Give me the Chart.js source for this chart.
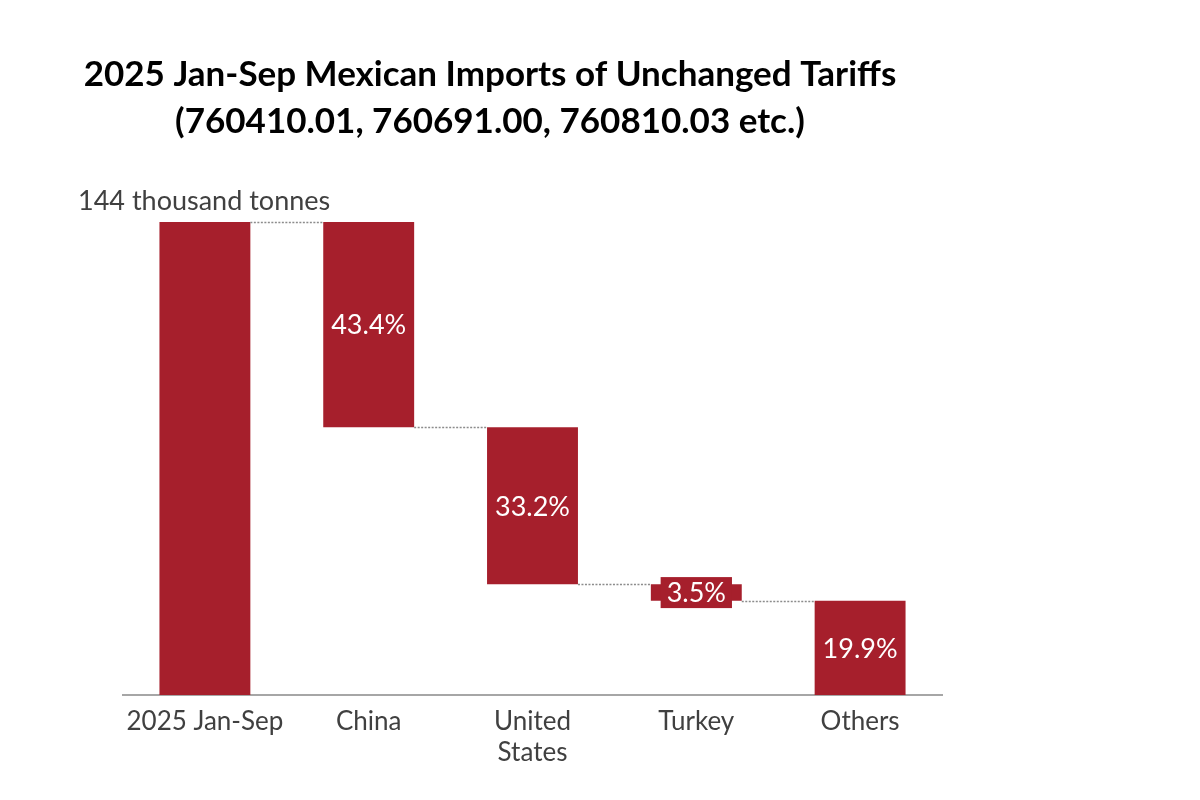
<!DOCTYPE html>
<html>
<head>
<meta charset="utf-8">
<script src="https://cdn.jsdelivr.net/npm/chart.js@4.4.1/dist/chart.umd.min.js"></script>
<style>
  html, body { margin: 0; padding: 0; background: #ffffff; }
  #wrap { width: 1200px; height: 800px; position: relative; }
</style>
</head>
<body>
<div id="wrap"><canvas id="c" width="1200" height="800"></canvas></div>
<script>
const titleLines = ['2025 Jan-Sep Mexican Imports of Unchanged Tariffs', '(760410.01, 760691.00, 760810.03 etc.)'];
const unitLabel = '144 thousand tonnes';
const categories = ['2025 Jan-Sep', 'China', ['United', 'States'], 'Turkey', 'Others'];
const totalValue = 144;
const shares = [43.4, 33.2, 3.5, 19.9];
const shareLabels = ['43.4%', '33.2%', '3.5%', '19.9%'];

// build floating ranges for the waterfall from the data
const ranges = [[0, totalValue]];
let level = totalValue;
shares.forEach((s, i) => {
  const amt = totalValue * s / 100;
  const lo = (i === shares.length - 1) ? 0 : level - amt;
  ranges.push([lo, level]);
  level = lo;
});
const barLabels = [''].concat(shareLabels);

const RED = '#A61F2C';
const FONT = 'Lato, "Open Sans", sans-serif';

const overlay = {
  id: 'overlay',
  afterDatasetsDraw(chart) {
    const ctx = chart.ctx;
    const meta = chart.getDatasetMeta(0);
    const ys = chart.scales.y;
    // connectors
    ctx.save();
    ctx.strokeStyle = '#8c8c8c';
    ctx.lineWidth = 1.5;
    ctx.setLineDash([2, 1.5]);
    for (let i = 0; i < meta.data.length - 1; i++) {
      const a = meta.data[i], b = meta.data[i + 1];
      const v = i === 0 ? ranges[0][1] : ranges[i][0];
      const y = Math.round(ys.getPixelForValue(v)) + 0.5;
      ctx.beginPath();
      ctx.moveTo(a.x + a.width / 2, y);
      ctx.lineTo(b.x - b.width / 2, y);
      ctx.stroke();
    }
    ctx.restore();
    // value labels
    ctx.save();
    ctx.font = '27px ' + FONT;
    ctx.textAlign = 'center';
    ctx.textBaseline = 'middle';
    meta.data.forEach((bar, i) => {
      const t = barLabels[i];
      if (!t) return;
      const cy = (bar.y + bar.base) / 2;
      const h = Math.abs(bar.base - bar.y);
      if (h < 34) {
        const w = ctx.measureText(t).width + 12;
        ctx.fillStyle = RED;
        ctx.fillRect(bar.x - w / 2, cy - 15.5, w, 31);
      }
      ctx.fillStyle = '#ffffff';
      ctx.fillText(t, bar.x, cy + 1);
    });
    ctx.restore();
    // title and unit text
    ctx.save();
    ctx.fillStyle = '#000000';
    ctx.font = 'bold 35px ' + FONT;
    ctx.textAlign = 'center';
    ctx.textBaseline = 'middle';
    ctx.fillText(titleLines[0], 490, 75);
    ctx.fillText(titleLines[1], 490, 122);
    ctx.font = '27px ' + FONT;
    ctx.fillStyle = '#404040';
    ctx.textAlign = 'left';
    ctx.fillText(unitLabel, 78, 201);
    ctx.restore();
  }
};

new Chart(document.getElementById('c'), {
  type: 'bar',
  data: {
    labels: categories,
    datasets: [{
      data: ranges,
      backgroundColor: RED,
      borderWidth: 0,
      categoryPercentage: 1,
      barPercentage: 0.555
    }]
  },
  options: {
    responsive: false,
    animation: false,
    layout: { padding: { left: 123, right: 258, top: 222, bottom: 0 } },
    plugins: { legend: { display: false }, tooltip: { enabled: false }, title: { display: false } },
    scales: {
      x: {
        grid: { display: false },
        border: { display: true, color: '#a6a6a6', width: 2 },
        ticks: { color: '#404040', font: { family: FONT, size: 26 }, padding: 3, maxRotation: 0, autoSkip: false },
        afterFit(scale) { scale.height = 105; }
      },
      y: {
        display: false,
        min: 0,
        max: totalValue
      }
    }
  },
  plugins: [overlay]
});
</script>
</body>
</html>
